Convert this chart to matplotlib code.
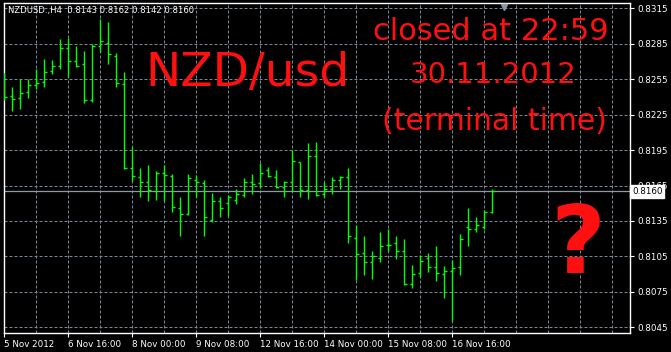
import numpy as np
import matplotlib
matplotlib.use("Agg")
import matplotlib.pyplot as plt

# NZDUSD H4 bars (open, high, low, close)
opens = [0.8246, 0.8241, 0.8239, 0.8244, 0.8250, 0.8253, 0.8262, 0.8266, 0.8281, 0.8270,
         0.8268, 0.8237, 0.8283, 0.8286, 0.8275, 0.8251, 0.8180, 0.8172, 0.8168, 0.8160,
         0.8176, 0.8173, 0.8146, 0.8141, 0.8170, 0.8167, 0.8136, 0.8152, 0.8150, 0.8153,
         0.8157, 0.8168, 0.8167, 0.8178, 0.8172, 0.8164, 0.8168, 0.8185, 0.8161, 0.8190,
         0.8158, 0.8162, 0.8170, 0.8172, 0.8121, 0.8108, 0.8100, 0.8104, 0.8115, 0.8116,
         0.8110, 0.8082, 0.8091, 0.8104, 0.8096, 0.8090, 0.8093, 0.8096, 0.8130, 0.8128,
         0.8130, 0.8143]
highs = [0.8260, 0.8248, 0.8255, 0.8255, 0.8264, 0.8272, 0.8271, 0.8289, 0.8290, 0.8283,
         0.8279, 0.8285, 0.8306, 0.8303, 0.8277, 0.8261, 0.8198, 0.8180, 0.8182, 0.8177,
         0.8182, 0.8175, 0.8155, 0.8175, 0.8174, 0.8170, 0.8159, 0.8155, 0.8157, 0.8162,
         0.8171, 0.8175, 0.8184, 0.8181, 0.8178, 0.8169, 0.8195, 0.8185, 0.8201, 0.8202,
         0.8168, 0.8172, 0.8173, 0.8180, 0.8132, 0.8122, 0.8110, 0.8126, 0.8128, 0.8122,
         0.8120, 0.8098, 0.8106, 0.8108, 0.8114, 0.8097, 0.8102, 0.8124, 0.8146, 0.8138,
         0.8144, 0.8162]
lows = [0.8237, 0.8228, 0.8230, 0.8239, 0.8247, 0.8248, 0.8259, 0.8264, 0.8257, 0.8265,
        0.8235, 0.8236, 0.8278, 0.8268, 0.8248, 0.8179, 0.8169, 0.8155, 0.8152, 0.8153,
        0.8152, 0.8143, 0.8122, 0.8140, 0.8155, 0.8122, 0.8134, 0.8138, 0.8139, 0.8149,
        0.8155, 0.8158, 0.8163, 0.8172, 0.8163, 0.8155, 0.8160, 0.8155, 0.8154, 0.8156,
        0.8155, 0.8158, 0.8162, 0.8116, 0.8085, 0.8089, 0.8086, 0.8100, 0.8110, 0.8103,
        0.8081, 0.8078, 0.8088, 0.8092, 0.8084, 0.8070, 0.8050, 0.8089, 0.8114, 0.8126,
        0.8128, 0.8142]
closes = [0.8240, 0.8238, 0.8243, 0.8250, 0.8252, 0.8261, 0.8266, 0.8281, 0.8270, 0.8266,
          0.8237, 0.8283, 0.8287, 0.8276, 0.8252, 0.8180, 0.8173, 0.8168, 0.8161, 0.8176,
          0.8174, 0.8147, 0.8141, 0.8171, 0.8168, 0.8138, 0.8152, 0.8146, 0.8155, 0.8158,
          0.8168, 0.8166, 0.8176, 0.8173, 0.8164, 0.8168, 0.8186, 0.8161, 0.8190, 0.8157,
          0.8162, 0.8170, 0.8172, 0.8122, 0.8107, 0.8100, 0.8105, 0.8114, 0.8115, 0.8110,
          0.8082, 0.8090, 0.8101, 0.8096, 0.8091, 0.8093, 0.8095, 0.8120, 0.8128, 0.8132,
          0.8143, 0.8160]

time_labels = ["5 Nov 2012", "6 Nov 16:00", "8 Nov 00:00", "9 Nov 08:00",
               "12 Nov 16:00", "14 Nov 00:00", "15 Nov 08:00", "16 Nov 16:00"]
price_ticks = [0.8045, 0.8075, 0.8105, 0.8135, 0.8165, 0.8195, 0.8225, 0.8255, 0.8285, 0.8315]
bid = 0.8160

W, H = 671, 352
fig = plt.figure(figsize=(W / 100, H / 100), dpi=100, facecolor="black")
ax = fig.add_axes([4 / W, 19 / H, 626 / W, 330.5 / H], facecolor="black")

green = "#00ff00"
grid_c = "#778899"
x = np.arange(len(opens))

# grid
for p in price_ticks:
    ax.axhline(p, color=grid_c, lw=0.72, ls=(0, (3, 2)), zorder=1)
for k in range(4, 77, 4):
    ax.axvline(k, color=grid_c, lw=0.72, ls=(0, (3, 2)), zorder=1)

# bid line
ax.axhline(bid, color="#8c9aaa", lw=0.9, zorder=2)

# OHLC bars
ax.vlines(x, lows, highs, color=green, lw=1.0, zorder=3)
ax.hlines(opens, x - 0.32, x, color=green, lw=1.0, zorder=3)
ax.hlines(closes, x, x + 0.32, color=green, lw=1.0, zorder=3)

ax.set_xlim(-0.04, 78.2)
ax.set_ylim(0.80402, 0.83199)

for s in ax.spines.values():
    s.set_color("white")
    s.set_linewidth(1.0)

ax.set_xticks(np.arange(0, 64, 8))
ax.set_xticklabels(time_labels, ha="left", fontsize=6.3, color="white")
ax.tick_params(axis="x", colors="white", length=3, width=0.8, pad=2)
ax.yaxis.tick_right()
ax.set_yticks(price_ticks)
ax.set_yticklabels(["%.4f" % p for p in price_ticks], fontsize=6.3, color="white")
ax.tick_params(axis="y", colors="white", length=3, width=0.8, pad=2)

# current price box (covers the 0.8165 label, as in the terminal)
ax.text(1.003, (bid - 0.80402) / (0.83199 - 0.80402), "%.4f" % bid, transform=ax.transAxes,
        fontsize=6.3, color="black", va="center", ha="left", zorder=10,
        bbox=dict(boxstyle="square,pad=0.2", fc="white", ec="white"))

# shift marker
ax.plot([62.4], [0.8316], marker="v", color="#8899aa", ms=4, clip_on=False, zorder=4)

fig.text(8 / W, 1 - 11 / H, "NZDUSD.,H4  0.8143 0.8162 0.8142 0.8160",
         color="white", fontsize=6.1, va="center", ha="left")

red = "#ff1010"
fig.text(248 / W, 1 - 73 / H, "NZD/usd", color=red, fontsize=34, ha="center", va="center")
fig.text(491 / W, 1 - 32 / H, "closed at 22:59", color=red, fontsize=22, ha="center", va="center")
fig.text(493 / W, 1 - 75 / H, "30.11.2012", color=red, fontsize=21, ha="center", va="center")
fig.text(494 / W, 1 - 121 / H, "(terminal time)", color=red, fontsize=21.5, ha="center", va="center")
fig.text(578 / W, 1 - 247 / H, "?", color=red, fontsize=68, fontweight="bold", ha="center", va="center")

fig.savefig("out.png", dpi=100, facecolor="black")
